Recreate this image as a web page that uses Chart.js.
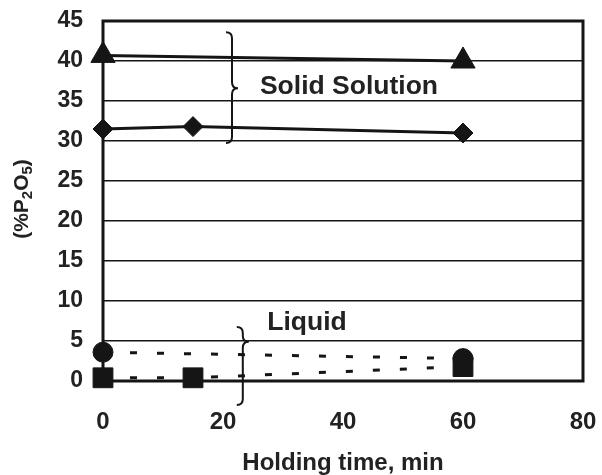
<!DOCTYPE html>
<html><head><meta charset="utf-8">
<script src="https://cdn.jsdelivr.net/npm/chart.js@4"></script>
<style>html,body{margin:0;padding:0;background:#fff}</style>
</head><body>
<canvas id="c" width="602" height="475"></canvas>
<script>
// ---- data ----
const xTickValues = [0, 20, 40, 60, 80];
const yTickValues = [0, 5, 10, 15, 20, 25, 30, 35, 40, 45];
const triangleTime = [0, 60];
const triangleP2O5 = [40.7, 40.0];
const diamondTime = [0, 15, 60];
const diamondP2O5 = [31.5, 31.8, 31.0];
const circleTime = [0, 60];
const circleP2O5 = [3.6, 2.8];
const squareTime = [0, 15, 60];
const squareP2O5 = [0.4, 0.4, 1.8];
const annotationLabels = ['Solid Solution', 'Liquid'];

const pts = (xs, ys) => xs.map((x, i) => ({x: x, y: ys[i]}));
const INK = '#151515';
const FONT = '"Liberation Sans", Arial, sans-serif';

function brace(ctx, x, yTop, yTip, yBot, w) {
  ctx.beginPath();
  ctx.moveTo(x - w, yTop);
  ctx.quadraticCurveTo(x, yTop, x, yTop + w);
  ctx.lineTo(x, yTip - w);
  ctx.quadraticCurveTo(x, yTip, x + w, yTip);
  ctx.quadraticCurveTo(x, yTip, x, yTip + w);
  ctx.lineTo(x, yBot - w);
  ctx.quadraticCurveTo(x, yBot, x - w, yBot);
  ctx.stroke();
}

const overlay = {
  id: 'overlay',
  beforeDatasetsDraw(chart) {
    const {ctx, chartArea: a} = chart;
    ctx.save();
    ctx.strokeStyle = INK;
    ctx.lineWidth = 3;
    ctx.strokeRect(a.left, a.top, a.right - a.left, a.bottom - a.top);
    ctx.restore();
  },
  afterDraw(chart) {
    const {ctx} = chart;
    const xs = chart.scales.x, ys = chart.scales.y;
    ctx.save();
    ctx.strokeStyle = INK;
    ctx.lineWidth = 2;
    brace(ctx, xs.getPixelForValue(21.5), ys.getPixelForValue(43.6), ys.getPixelForValue(36.6), ys.getPixelForValue(29.75), 6);
    brace(ctx, xs.getPixelForValue(23.3), ys.getPixelForValue(6.75), ys.getPixelForValue(4.9), ys.getPixelForValue(-3.0), 6);
    ctx.fillStyle = '#222';
    ctx.font = 'bold 26.5px ' + FONT;
    ctx.textAlign = 'center';
    ctx.textBaseline = 'middle';
    ctx.fillText(annotationLabels[0], xs.getPixelForValue(41), ys.getPixelForValue(36.75));
    ctx.fillText(annotationLabels[1], xs.getPixelForValue(34), ys.getPixelForValue(7.25));
    // y axis title with subscripts
    const parts = [['(%P', false], ['2', true], ['O', false], ['5', true], [')', false]];
    const big = 'bold 21px ' + FONT, small = 'bold 15px ' + FONT;
    let total = 0;
    parts.forEach(p => { ctx.font = p[1] ? small : big; total += ctx.measureText(p[0]).width; });
    ctx.translate(22, 199);
    ctx.rotate(-Math.PI / 2);
    ctx.textAlign = 'left';
    let cx = -total / 2;
    parts.forEach(p => {
      ctx.font = p[1] ? small : big;
      ctx.fillText(p[0], cx, p[1] ? 6 : 0);
      cx += ctx.measureText(p[0]).width;
    });
    ctx.restore();
  }
};

const lineDs = (data, style, radius, dashed) => ({
  data: data, showLine: true, clip: false,
  borderColor: INK, backgroundColor: INK,
  borderWidth: 3, borderDash: dashed ? [7, 20] : [],
  pointStyle: style, pointRadius: radius, pointHoverRadius: radius,
  pointBorderWidth: 1, pointBackgroundColor: INK, pointBorderColor: INK
});

new Chart(document.getElementById('c'), {
  type: 'scatter',
  data: {
    datasets: [
      lineDs(pts(triangleTime, triangleP2O5), 'triangle', 14, false),
      lineDs(pts(diamondTime, diamondP2O5), 'rectRot', 10, false),
      lineDs(pts(circleTime, circleP2O5), 'circle', 10, true),
      lineDs(pts(squareTime, squareP2O5), 'rect', 14, true)
    ]
  },
  options: {
    responsive: false, animation: false,
    layout: {padding: {top: 21, right: 19, left: 0, bottom: 0}},
    plugins: {legend: {display: false}, tooltip: {enabled: false}},
    scales: {
      x: {
        type: 'linear', min: 0, max: 80,
        afterBuildTicks: s => { s.ticks = xTickValues.map(v => ({value: v})); },
        afterFit: s => { s.height = 94; s.paddingLeft = 0; s.paddingRight = 0; },
        grid: {display: false, drawTicks: false},
        border: {display: false},
        ticks: {padding: 27, color: '#222', font: {family: FONT, size: 24, weight: 'bold'}},
        title: {display: true, text: 'Holding time, min', color: '#222', padding: {top: 0, bottom: 0}, font: {family: FONT, size: 24, weight: 'bold', lineHeight: 1}}
      },
      y: {
        type: 'linear', min: 0, max: 45,
        afterBuildTicks: s => { s.ticks = yTickValues.map(v => ({value: v})); },
        afterFit: s => { s.width = 103; s.paddingTop = 0; s.paddingBottom = 0; },
        grid: {color: INK, lineWidth: 1.5, drawTicks: false},
        border: {display: false},
        ticks: {padding: 20, color: '#222', font: {family: FONT, size: 23, weight: 'bold'}}
      }
    }
  },
  plugins: [overlay]
});
</script>
</body></html>
